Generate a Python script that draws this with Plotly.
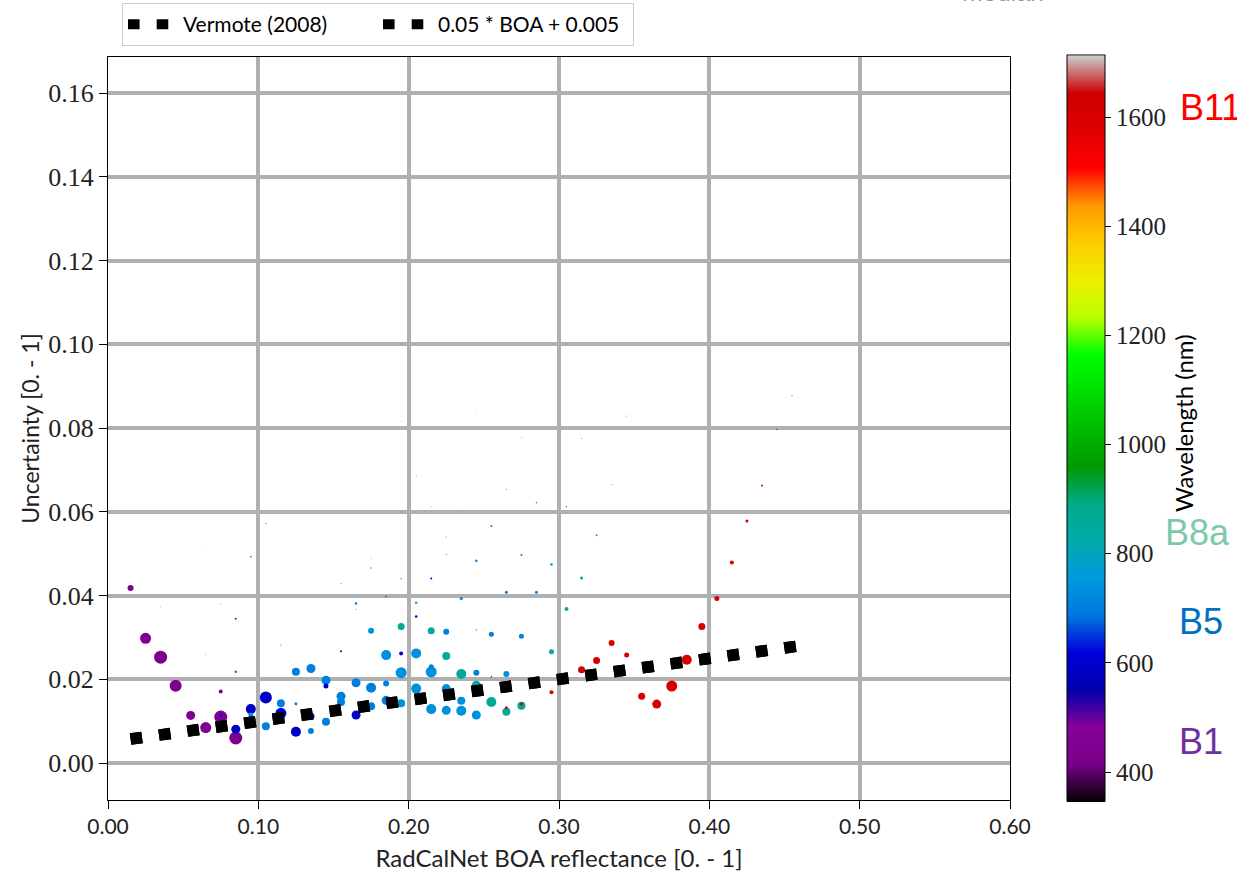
import plotly.graph_objects as go

# ---- data ----
P, D, B, C, T, R = 443, 590, 705, 740, 865, 1610

boa = [0.015, 0.025, 0.035, 0.035, 0.045, 0.055, 0.065, 0.065, 0.065, 0.075, 0.075, 0.075, 0.075,
       0.085, 0.085, 0.085, 0.085, 0.095, 0.095, 0.095, 0.095, 0.105, 0.105, 0.105,
       0.115, 0.115, 0.115, 0.125, 0.125, 0.125, 0.135, 0.135, 0.135, 0.145, 0.145, 0.145,
       0.155, 0.155, 0.155, 0.155, 0.165, 0.165, 0.165, 0.165, 0.175, 0.175, 0.175, 0.175, 0.175,
       0.185, 0.185, 0.185, 0.185, 0.195, 0.195, 0.195, 0.195, 0.195, 0.195,
       0.205, 0.205, 0.205, 0.205, 0.205, 0.215, 0.215, 0.215, 0.215, 0.215, 0.215,
       0.225, 0.225, 0.225, 0.225, 0.225, 0.225, 0.235, 0.235, 0.235, 0.235, 0.235,
       0.245, 0.245, 0.245, 0.245, 0.245, 0.245, 0.255, 0.255, 0.255, 0.255,
       0.265, 0.265, 0.265, 0.265, 0.265, 0.275, 0.275, 0.275, 0.275, 0.275,
       0.285, 0.285, 0.285, 0.295, 0.295, 0.295, 0.305, 0.305, 0.305, 0.315, 0.315, 0.315,
       0.325, 0.325, 0.335, 0.335, 0.345, 0.345, 0.355, 0.365, 0.375, 0.385, 0.395,
       0.405, 0.415, 0.425, 0.435, 0.445, 0.455]

unc = [0.0418, 0.0298, 0.0253, 0.0373, 0.0185, 0.0114, 0.0085, 0.0260, 0.0521, 0.0110, 0.0171, 0.0113, 0.0380,
       0.0060, 0.0081, 0.0345, 0.0218, 0.0129, 0.0115, 0.0095, 0.0493, 0.0157, 0.0088, 0.0572,
       0.0143, 0.0119, 0.0282, 0.0218, 0.0142, 0.0075, 0.0226, 0.0112, 0.0077, 0.0198, 0.0184, 0.0099,
       0.0160, 0.0146, 0.0267, 0.0429, 0.0192, 0.0115, 0.0381, 0.0367, 0.0180, 0.0136, 0.0316, 0.0466, 0.0490,
       0.0258, 0.0190, 0.0150, 0.0398, 0.0216, 0.0143, 0.0326, 0.0262, 0.0440, 0.0816,
       0.0262, 0.0178, 0.0383, 0.0350, 0.0685, 0.0218, 0.0230, 0.0129, 0.0316, 0.0441, 0.0612,
       0.0256, 0.0178, 0.0126, 0.0314, 0.0540, 0.0498, 0.0213, 0.0149, 0.0125, 0.0393, 0.0608,
       0.0216, 0.0186, 0.0115, 0.0318, 0.0483, 0.0835, 0.0146, 0.0206, 0.0308, 0.0566,
       0.0213, 0.0123, 0.0132, 0.0408, 0.0654, 0.0137, 0.0141, 0.0303, 0.0497, 0.0777,
       0.0185, 0.0408, 0.0622, 0.0169, 0.0266, 0.0474, 0.0206, 0.0368, 0.0612, 0.0223, 0.0442, 0.0775,
       0.0245, 0.0544, 0.0287, 0.0665, 0.0258, 0.0829, 0.0160, 0.0141, 0.0184, 0.0247, 0.0326,
       0.0393, 0.0479, 0.0578, 0.0663, 0.0797, 0.0878]

wavelength = [P, P, P, B, P, P, P, B, P, P, P, D, P,
              P, D, P, B, D, C, P, P, D, B, R,
              B, D, P, B, B, D, B, D, B, B, D, B,
              B, B, D, T, B, D, B, C, B, B, C, C, R,
              C, B, B, B, C, C, T, D, T, C,
              C, C, T, D, R, C, B, C, T, D, R,
              T, C, C, B, C, R, T, C, C, B, C,
              B, T, C, R, B, C, T, R, B, B,
              C, T, R, B, B, T, R, B, B, R,
              T, B, B, R, T, C, R, T, C, R, T, T,
              R, T, R, T, R, T, R, R, R, R, R,
              R, R, R, R, R, R]

n_obs = [6, 11, 13, 0.8, 12, 9, 11, 0.8, 0.6, 13, 4, 3, 0.8,
         13, 9, 2, 2.5, 10, 5, 9, 1.5, 12, 8, 1,
         8, 11, 1, 8, 3, 10, 9, 7, 6, 9, 5, 8,
         9, 8, 2, 1, 9, 9, 2.5, 1, 10, 8, 6, 1.5, 0.8,
         10, 6, 9, 2, 11, 8, 7, 4, 1.5, 0.8,
         10, 10, 2.5, 2.5, 0.8, 11, 5, 10, 7, 2, 0.8,
         8, 9, 9, 6, 1.2, 1, 10, 8, 10, 3, 0.6,
         6, 9, 9, 1.2, 2.5, 0.6, 10, 1.5, 5, 2,
         6, 8, 3, 3, 1, 8, 3, 5, 2, 0.8,
         5, 3, 1.5, 4, 5, 2.5, 2, 4, 1.5, 7, 3, 1,
         7, 2, 6, 1, 5, 1, 7, 9, 11, 10, 7,
         5, 4, 3, 2, 1.5, 1]

ref_x = [0.015, 0.465]
ref_y = [0.00575, 0.02825]

cbar_ticks = [400, 600, 800, 1000, 1200, 1400, 1600]
x_ticks = [0.0, 0.1, 0.2, 0.3, 0.4, 0.5, 0.6]
y_ticks = [0.0, 0.02, 0.04, 0.06, 0.08, 0.10, 0.12, 0.14, 0.16]

band_labels = ["B11", "B8a", "B5", "B1"]
band_label_colors = ["#ff0000", "#7ccaa9", "#0070c0", "#7030a0"]

# nipy_spectral colormap
nipy = [(0.0, 0.0, 0.0), (0.4667, 0.0, 0.5333), (0.5333, 0.0, 0.6), (0.0, 0.0, 0.6667),
        (0.0, 0.0, 0.8667), (0.0, 0.4667, 0.8667), (0.0, 0.6, 0.8667), (0.0, 0.6667, 0.6667),
        (0.0, 0.6667, 0.5333), (0.0, 0.6, 0.0), (0.0, 0.7333, 0.0), (0.0, 0.8667, 0.0),
        (0.0, 1.0, 0.0), (0.7333, 1.0, 0.0), (0.9333, 0.9333, 0.0), (1.0, 0.8, 0.0),
        (1.0, 0.6, 0.0), (1.0, 0.0, 0.0), (0.8667, 0.0, 0.0), (0.8, 0.0, 0.0), (0.8, 0.8, 0.8)]
colorscale = [[i / (len(nipy) - 1), "rgb(%d,%d,%d)" % tuple(round(255 * c) for c in rgb)]
              for i, rgb in enumerate(nipy)]

SERIF = "Liberation Serif"
SANS = "Lato"

fig = go.Figure()

fig.add_trace(go.Scatter(
    x=boa, y=unc, mode="markers", showlegend=False,
    marker=dict(size=n_obs, sizemode="diameter", sizeref=1, color=wavelength, opacity=1,
                colorscale=colorscale, cmin=346, cmax=1713, line=dict(width=0),
                colorbar=dict(
                    x=1.0632, xanchor="left", xpad=0, y=0.5, yanchor="middle", len=1.004, ypad=0,
                    thickness=38, outlinewidth=1, outlinecolor="black",
                    tickvals=cbar_ticks, ticks="outside", ticklen=6, tickcolor="black",
                    tickfont=dict(family=SERIF, size=25, color="#222"),
                )),
))

for name in ["Vermote (2008)", "0.05 * BOA + 0.005"]:
    fig.add_trace(go.Scatter(
        x=ref_x, y=ref_y, mode="lines", name=name,
        line=dict(color="black", width=11.5, dash="11.6px,17.1px"),
    ))

for txt, col, xp, yp in zip(band_labels, band_label_colors,
                            [1.1863, 1.1696, 1.185, 1.185], [0.9327, 0.3594, 0.2396, 0.0794]):
    fig.add_annotation(text=txt, x=xp, y=yp, xref="paper", yref="paper", xanchor="left",
                       yanchor="middle", showarrow=False,
                       font=dict(family="Liberation Sans", size=36, color=col))

fig.add_annotation(text="Wavelength (nm)", x=1.1918, y=0.5074, xref="paper", yref="paper",
                   xanchor="center", yanchor="middle", textangle=-90, showarrow=False,
                   font=dict(family=SANS, size=24, color="black"))

fig.add_annotation(text="median", x=0.992, y=1.0665, xref="paper", yref="paper",
                   xanchor="center", yanchor="bottom", showarrow=False,
                   font=dict(family="Liberation Sans", size=25, color="#8a9bb3"))

axis_common = dict(showgrid=True, gridcolor="#b0b0b0", gridwidth=4, zeroline=False,
                   showline=True, linecolor="black", linewidth=1, mirror=True,
                   ticks="outside", ticklen=8, tickcolor="black")

fig.update_layout(
    width=1237, height=872,
    margin=dict(l=108, r=227, t=57, b=72, autoexpand=False),
    paper_bgcolor="white", plot_bgcolor="white",
    xaxis=dict(range=[0, 0.6], tickvals=x_ticks, tickformat=".2f",
               tickfont=dict(family=SANS, size=21, color="#222"),
               title=dict(text="RadCalNet BOA reflectance [0. - 1]", standoff=12,
                          font=dict(family=SANS, size=24, color="#222")),
               **axis_common),
    yaxis=dict(range=[-0.0088, 0.1686], tickvals=y_ticks, tickformat=".2f",
               tickfont=dict(family=SERIF, size=26, color="#222"),
               title=dict(text="Uncertainty [0. - 1]", standoff=2,
                          font=dict(family=SANS, size=23, color="#222")),
               **axis_common),
    legend=dict(orientation="h", x=0.0155, y=1.0727, xanchor="left", yanchor="top",
                bgcolor="white", bordercolor="#cccccc", borderwidth=1,
                font=dict(family=SANS, size=21, color="black"), itemwidth=50,
                entrywidth=190, entrywidthmode="pixels"),
)

fig.write_html("out.html")
